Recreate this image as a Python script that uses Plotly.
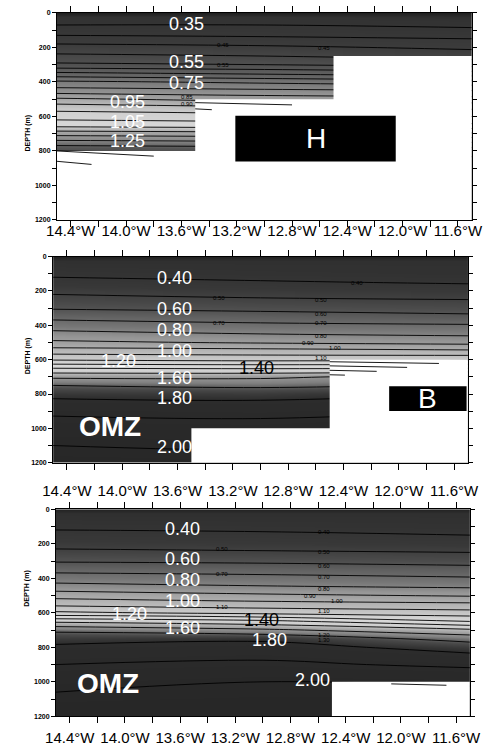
import plotly.graph_objects as go

# ---------------- data ----------------
LON_COLS = [-14.5, -13.0, -11.5]
DEPTHS = [0, 25, 100, 150, 200, 250, 300, 350, 400, 450, 500, 550, 600, 650, 700, 750, 800, 900, 1000, 1100, 1200]

# panel 1 (values at west / middle / east columns)
p1_west = [0.27, 0.32, 0.37, 0.42, 0.47, 0.51, 0.56, 0.66, 0.76, 0.82, 0.91, 0.98, 1.03, 1.08, 1.18, 1.27, 1.35, 1.40, 1.42, 1.43, 1.44]
p1_mid  = [0.27, 0.32, 0.37, 0.41, 0.46, 0.50, 0.55, 0.64, 0.74, 0.81, 0.88, 0.96, 1.02, 1.07, 1.17, 1.26, 1.34, 1.40, 1.42, 1.43, 1.44]
p1_east = [0.27, 0.31, 0.36, 0.40, 0.44, 0.48, 0.53, 0.62, 0.72, 0.80, 0.87, 0.94, 1.00, 1.06, 1.16, 1.25, 1.33, 1.39, 1.41, 1.42, 1.43]

# panel 2
p2_west = [0.30, 0.33, 0.38, 0.43, 0.48, 0.53, 0.59, 0.67, 0.75, 0.83, 0.92, 1.05, 1.19, 1.40, 1.58, 1.70, 1.77, 1.88, 1.95, 2.00, 2.04]
p2_mid  = [0.30, 0.33, 0.36, 0.41, 0.46, 0.51, 0.57, 0.65, 0.72, 0.80, 0.89, 1.04, 1.17, 1.39, 1.58, 1.68, 1.76, 1.87, 1.94, 1.99, 2.03]
p2_east = [0.30, 0.33, 0.35, 0.39, 0.45, 0.50, 0.56, 0.62, 0.71, 0.78, 0.87, 1.02, 1.18, 1.40, 1.64, 1.71, 1.80, 1.90, 1.98, 2.02, 2.05]

# panel 3
p3_west = [0.30, 0.33, 0.38, 0.43, 0.47, 0.52, 0.59, 0.67, 0.75, 0.84, 0.96, 1.07, 1.22, 1.48, 1.68, 1.76, 1.82, 1.90, 1.97, 2.02, 2.05]
p3_mid  = [0.30, 0.33, 0.37, 0.42, 0.46, 0.51, 0.58, 0.66, 0.73, 0.81, 0.92, 1.04, 1.17, 1.43, 1.62, 1.78, 1.84, 1.92, 2.00, 2.03, 2.06]
p3_east = [0.30, 0.33, 0.36, 0.40, 0.45, 0.50, 0.56, 0.64, 0.71, 0.79, 0.89, 1.02, 1.14, 1.30, 1.52, 1.66, 1.76, 1.88, 1.99, 2.03, 2.06]

# no-data (white) blocks: lon edges and bottom of data per block
BLOCK_EDGES = [-14.5, -13.5, -12.5, -11.5]
p1_bottom = [800, 500, 250]
p2_bottom = [1200, 1000, 600]
p3_bottom = [1200, 1200, 1000]

# contour lines continuing into the white areas
p1_stray = [([-14.5, -13.8], [800, 830]), ([-14.5, -14.25], [860, 878]),
            ([-13.5, -12.8], [520, 533]), ([-13.5, -13.38], [556, 561])]
p2_stray = [([-12.5, -11.71], [612, 622]), ([-12.5, -11.94], [636, 645]),
            ([-12.5, -12.16], [662, 668]), ([-12.5, -12.39], [688, 690])]
p3_stray = [([-12.07, -11.67], [1012, 1020])]

# black boxes (lon0, lon1, depth0, depth1, letter)
box_H = (-13.21, -12.05, 596, 861, "H")
box_B = (-12.07, -11.51, 755, 899, "B")

# big contour labels (text, lon, depth, colour)
p1_labels = [("0.35", -13.56, 67, "white"), ("0.55", -13.56, 285, "white"), ("0.75", -13.56, 406, "white"),
             ("0.95", -13.99, 516, "white"), ("1.05", -13.99, 631, "white"), ("1.25", -13.99, 741, "white")]
p2_labels = [("0.40", -13.62, 127, "white"), ("0.60", -13.62, 307, "white"), ("0.80", -13.62, 428, "white"),
             ("1.00", -13.62, 549, "white"), ("1.20", -14.03, 605, "white"), ("1.40", -13.03, 651, "black"),
             ("1.60", -13.62, 708, "white"), ("1.80", -13.62, 824, "white"), ("2.00", -13.62, 1107, "white")]
p3_labels = [("0.40", -13.58, 115, "white"), ("0.60", -13.58, 290, "white"), ("0.80", -13.58, 411, "white"),
             ("1.00", -13.58, 532, "white"), ("1.20", -13.97, 605, "white"), ("1.40", -13.01, 639, "black"),
             ("1.60", -13.58, 691, "white"), ("1.80", -12.95, 760, "white"), ("2.00", -12.64, 990, "white")]

# tiny inline contour labels
p1_small = [("0.45", -13.30, 188), ("0.55", -13.30, 303), ("0.45", -12.57, 205), ("0.85", -13.56, 488), ("0.90", -13.56, 525)]
p2_small = [("0.40", -12.30, 156), ("0.50", -12.56, 253), ("0.60", -12.56, 334), ("0.70", -12.56, 386),
            ("0.80", -12.56, 461), ("0.90", -12.66, 505), ("1.00", -12.46, 532), ("1.10", -12.56, 590),
            ("0.50", -13.30, 242), ("0.70", -13.30, 386)]
p3_small = [("0.40", -12.56, 132), ("0.50", -12.56, 248), ("0.60", -12.56, 328), ("0.70", -12.56, 391),
            ("0.80", -12.56, 461), ("0.90", -12.66, 503), ("1.00", -12.46, 532), ("1.10", -12.56, 587),
            ("1.20", -12.56, 731), ("1.30", -12.56, 757), ("0.50", -13.30, 230), ("0.70", -13.30, 374),
            ("1.10", -13.30, 564)]

OMZ_P2 = (-14.09, 991)
OMZ_P3 = (-14.12, 1008)

X_TICKS = [-14.4, -14.2, -14.0, -13.8, -13.6, -13.4, -13.2, -13.0, -12.8, -12.6, -12.4, -12.2, -12.0, -11.8, -11.6]
X_LABELS = ["14.4°W", "", "14.0°W", "", "13.6°W", "", "13.2°W", "", "12.8°W", "", "12.4°W", "", "12.0°W", "", "11.6°W"]
Y_TICKS = [0, 100, 200, 300, 400, 500, 600, 700, 800, 900, 1000, 1100, 1200]
Y_LABELS = ["0", "", "200", "", "400", "", "600", "", "800", "", "1000", "", "1200"]

# grey mapping of the shading
scale1_vals = [0.25, 0.32, 0.45, 0.55, 0.70, 0.80, 0.90, 1.00, 1.08, 1.15, 1.25, 1.32, 1.45]
scale1_grey = [26, 50, 60, 80, 105, 138, 165, 208, 216, 168, 136, 85, 64]
scale2_vals = [0.28, 0.33, 0.45, 0.55, 0.65, 0.75, 0.85, 1.00, 1.15, 1.30, 1.45, 1.55, 1.65, 1.72, 1.80, 2.10]
scale2_grey = [26, 48, 56, 74, 96, 119, 149, 176, 200, 218, 208, 165, 128, 74, 44, 38]

# ---------------- figure ----------------
W, H = 501, 753
# plot rectangles in pixels: (left, right, top, bottom)
RECTS = [(49, 482, 9, 218), (45, 478, 255, 463), (48, 480, 510, 719)]
STANDOFF = [-9, 8, 2]


def cscale(vals, grey):
    lo, hi = vals[0], vals[-1]
    return [[(v - lo) / (hi - lo), f"rgb({g},{g},{g})"] for v, g in zip(vals, grey)]


fig = go.Figure()
panels = [
    (p1_west, p1_mid, p1_east, scale1_vals, scale1_grey, 0.35, 1.35, 0.05, p1_bottom, p1_stray, p1_labels, p1_small),
    (p2_west, p2_mid, p2_east, scale2_vals, scale2_grey, 0.40, 2.00, 0.10, p2_bottom, p2_stray, p2_labels, p2_small),
    (p3_west, p3_mid, p3_east, scale2_vals, scale2_grey, 0.40, 2.00, 0.10, p3_bottom, p3_stray, p3_labels, p3_small),
]
annotations = []
for k, (w, m, e, sv, sg, c0, c1, cs, bottoms, stray, labels, small) in enumerate(panels):
    sfx = "" if k == 0 else str(k + 1)
    xa, ya = "x" + sfx, "y" + sfx
    z = [[w[i], m[i], e[i]] for i in range(len(DEPTHS))]
    fig.add_trace(go.Contour(
        x=LON_COLS, y=DEPTHS, z=z, xaxis=xa, yaxis=ya,
        colorscale=cscale(sv, sg), zmin=sv[0], zmax=sv[-1], showscale=False,
        contours=dict(start=c0, end=c1, size=cs, coloring="heatmap"),
        line=dict(color="black", width=0.9), hoverinfo="skip"))
    # one step-shaped white polygon for the no-data area
    mx, my = [BLOCK_EDGES[0]], [1200]
    for i, b in enumerate(bottoms):
        mx += [BLOCK_EDGES[i], BLOCK_EDGES[i + 1]]
        my += [b, b]
    mx += [BLOCK_EDGES[-1], BLOCK_EDGES[0]]
    my += [1200, 1200]
    fig.add_trace(go.Scatter(x=mx, y=my, xaxis=xa, yaxis=ya, mode="lines", fill="toself",
                             fillcolor="white", line=dict(width=0, color="white"),
                             hoverinfo="skip", showlegend=False))
    for lx, ly in stray:
        fig.add_trace(go.Scatter(x=lx, y=ly, xaxis=xa, yaxis=ya, mode="lines",
                                 line=dict(color="black", width=0.9), hoverinfo="skip", showlegend=False))
    for t, lx, ly, col in labels:
        annotations.append(dict(text=t, x=lx, y=ly, xref=xa, yref=ya, showarrow=False, borderpad=0,
                                font=dict(family="Liberation Sans, Arial", size=18, color=col)))
    for t, lx, ly in small:
        annotations.append(dict(text=t, x=lx, y=ly, xref=xa, yref=ya, showarrow=False, borderpad=0,
                                font=dict(family="Liberation Sans, Arial", size=6, color="black")))
    # layout axes
    l, r, t_, b_ = RECTS[k]
    fig.layout["xaxis" + sfx] = dict(
        domain=[l / W, r / W], anchor=ya, range=[-14.5, -11.5],
        tickvals=X_TICKS, ticktext=X_LABELS, ticks="outside", ticklen=6, tickwidth=1,
        tickcolor="black", showline=True, linecolor="black", linewidth=1, mirror="allticks",
        showgrid=False, zeroline=False, ticklabelstandoff=STANDOFF[k],
        tickfont=dict(family="Liberation Sans, Arial", size=15, color="black"))
    fig.layout["yaxis" + sfx] = dict(
        domain=[1 - b_ / H, 1 - t_ / H], anchor=xa, range=[1200, 0],
        tickvals=Y_TICKS, ticktext=Y_LABELS, ticks="outside", ticklen=4, tickwidth=1,
        tickcolor="black", showline=True, linecolor="black", linewidth=1, mirror="allticks",
        showgrid=False, zeroline=False,
        tickfont=dict(family="Liberation Sans, Arial", size=7, color="black", weight="bold"))
    annotations.append(dict(text="DEPTH (m)", x=12 / W, y=1 - ((t_ + b_) / 2 - 4) / H, xref="paper", yref="paper",
                            textangle=-90, showarrow=False,
                            font=dict(family="Liberation Sans, Arial", size=7, color="black", weight="bold")))

# black boxes with letters
for (lon0, lon1, d0, d1, letter), sfx in [(box_H, ""), (box_B, "2")]:
    fig.add_trace(go.Scatter(x=[lon0, lon1, lon1, lon0, lon0], y=[d0, d0, d1, d1, d0],
                             xaxis="x" + sfx, yaxis="y" + sfx, mode="lines", fill="toself",
                             fillcolor="black", line=dict(width=0, color="black"),
                             hoverinfo="skip", showlegend=False))
    annotations.append(dict(text=letter, x=(lon0 + lon1) / 2, y=(d0 + d1) / 2, xref="x" + sfx, yref="y" + sfx,
                            showarrow=False, font=dict(family="Liberation Sans, Arial", size=28, color="white")))

for (lx, ly), sfx in [(OMZ_P2, "2"), (OMZ_P3, "3")]:
    annotations.append(dict(text="OMZ", x=lx, y=ly, xref="x" + sfx, yref="y" + sfx, showarrow=False,
                            font=dict(family="Liberation Sans, Arial", size=28, color="white", weight="bold")))

fig.update_layout(width=W, height=H, margin=dict(l=0, r=0, t=0, b=0),
                  paper_bgcolor="white", plot_bgcolor="white", showlegend=False,
                  annotations=annotations)
fig.write_html("out.html", config={"displayModeBar": False, "staticPlot": True},
               post_script="document.body.style.margin='0';document.body.style.overflow='hidden';")
